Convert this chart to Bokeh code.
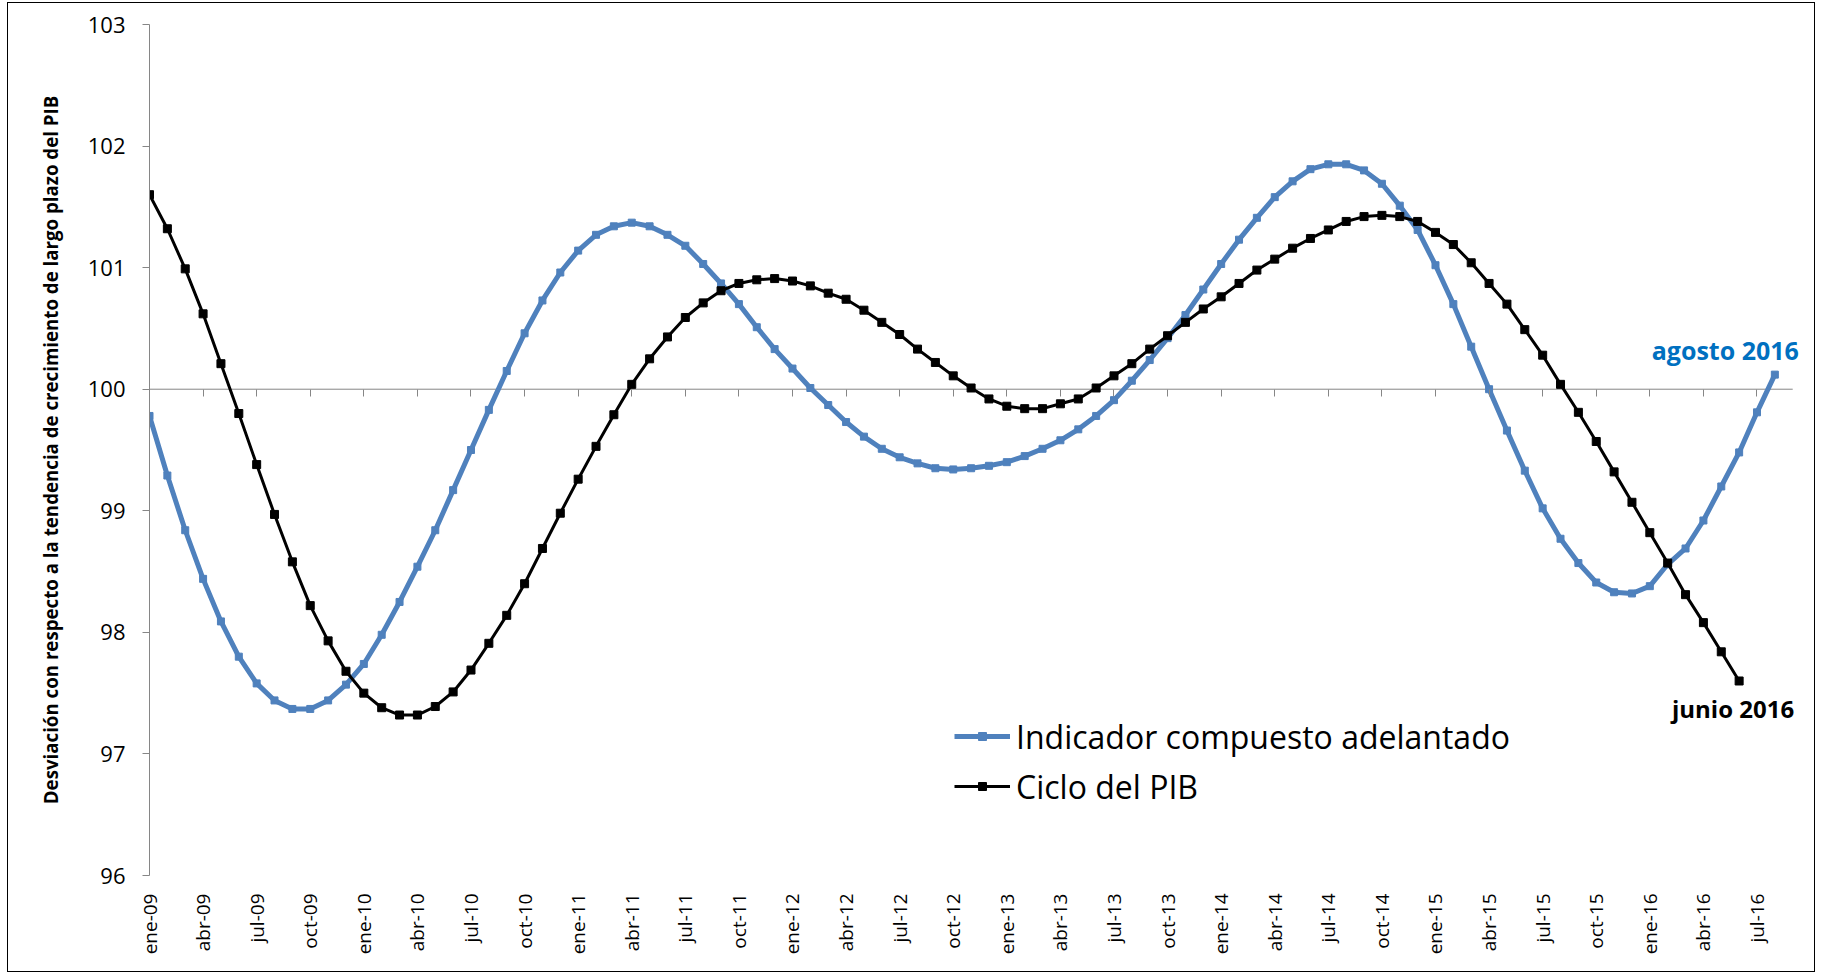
import math
from bokeh.plotting import figure
from bokeh.models import (Range1d, LinearAxis, FixedTicker, Legend, LegendItem,
                          ColumnDataSource, Label)
from bokeh.embed import file_html
from bokeh.resources import INLINE

# ---------------- data ----------------
meses = ["ene", "feb", "mar", "abr", "may", "jun", "jul", "ago", "sep", "oct", "nov", "dic"]
months = [f"{m}-{y:02d}" for y in range(9, 17) for m in meses][:93]  # ene-09 .. sep-16

indicador = [
    99.78, 99.29, 98.84, 98.44, 98.09, 97.80, 97.58, 97.44, 97.37, 97.37, 97.44, 97.57,
    97.74, 97.98, 98.25, 98.54, 98.84, 99.17, 99.50, 99.83, 100.15, 100.46, 100.73, 100.96,
    101.14, 101.27, 101.34, 101.37, 101.34, 101.27, 101.18, 101.03, 100.87, 100.70, 100.51, 100.33,
    100.17, 100.01, 99.87, 99.73, 99.61, 99.51, 99.44, 99.39, 99.35, 99.34, 99.35, 99.37,
    99.40, 99.45, 99.51, 99.58, 99.67, 99.78, 99.91, 100.07, 100.24, 100.42, 100.61, 100.82,
    101.03, 101.23, 101.41, 101.58, 101.71, 101.81, 101.85, 101.85, 101.80, 101.69, 101.51, 101.31,
    101.02, 100.70, 100.35, 100.00, 99.66, 99.33, 99.02, 98.77, 98.57, 98.41, 98.33, 98.32,
    98.38, 98.56, 98.69, 98.92, 99.20, 99.48, 99.81, 100.12,
]

ciclo_pib = [
    101.60, 101.32, 100.99, 100.62, 100.21, 99.80, 99.38, 98.97, 98.58, 98.22, 97.93, 97.68,
    97.50, 97.38, 97.32, 97.32, 97.39, 97.51, 97.69, 97.91, 98.14, 98.40, 98.69, 98.98,
    99.26, 99.53, 99.79, 100.04, 100.25, 100.43, 100.59, 100.71, 100.81, 100.87, 100.90, 100.91,
    100.89, 100.85, 100.79, 100.74, 100.65, 100.55, 100.45, 100.33, 100.22, 100.11, 100.01, 99.92,
    99.86, 99.84, 99.84, 99.88, 99.92, 100.01, 100.11, 100.21, 100.33, 100.44, 100.55, 100.66,
    100.76, 100.87, 100.98, 101.07, 101.16, 101.24, 101.31, 101.38, 101.42, 101.43, 101.42, 101.38,
    101.29, 101.19, 101.04, 100.87, 100.70, 100.49, 100.28, 100.04, 99.81, 99.57, 99.32, 99.07,
    98.82, 98.57, 98.31, 98.08, 97.84, 97.60,
]

tick_labels = [
    "ene-09", "abr-09", "jul-09", "oct-09", "ene-10", "abr-10", "jul-10", "oct-10",
    "ene-11", "abr-11", "jul-11", "oct-11", "ene-12", "abr-12", "jul-12", "oct-12",
    "ene-13", "abr-13", "jul-13", "oct-13", "ene-14", "abr-14", "jul-14", "oct-14",
    "ene-15", "abr-15", "jul-15", "oct-15", "ene-16", "abr-16", "jul-16",
]
y_ticks = [96, 97, 98, 99, 100, 101, 102, 103]
baseline = 100

series_names = ["Indicador compuesto adelantado", "Ciclo del PIB"]
y_title = "Desviación con respecto a la tendencia de crecimiento de largo plazo del PIB"
last_labels = ["agosto 2016", "junio 2016"]

# ---------------- styling ----------------
FONT = "Open Sans"
BLUE = "#4F81BD"
LABEL_BLUE = "#0070C0"
GRAY = "#868686"

tick_pos = [months.index(t) for t in tick_labels]
last_cat = len(months) - 1

p = figure(width=1808, height=970, output_backend="svg", toolbar_location=None,
           x_range=Range1d(0, last_cat + 0.66), y_range=Range1d(96, 103),
           x_axis_location=None, y_axis_location=None,
           min_border_left=141, min_border_right=12, min_border_top=21,
           min_border_bottom=98)
p.grid.visible = False
p.outline_line_color = None
p.background_fill_color = "white"
p.border_fill_color = "white"
p.styles = {"border": "1.5px solid black", "margin": "2px 0px 0px 7px"}

yaxis = LinearAxis(ticker=FixedTicker(ticks=y_ticks),
                   axis_line_color=GRAY, axis_line_width=1,
                   major_tick_line_color=GRAY, major_tick_out=7, major_tick_in=0,
                   minor_tick_line_color=None,
                   major_label_text_font=FONT, major_label_text_font_size="22px",
                   major_label_text_color="black", major_label_standoff=17,
                   axis_label=y_title, axis_label_text_font=FONT,
                   axis_label_text_font_style="bold", axis_label_text_font_size="18.7px",
                   axis_label_text_color="black", axis_label_standoff=22)
p.add_layout(yaxis, "left")

xlab = LinearAxis(ticker=FixedTicker(ticks=tick_pos),
                  major_label_overrides={pos: lab for pos, lab in zip(tick_pos, tick_labels)},
                  axis_line_color=None, major_tick_line_color=None,
                  minor_tick_line_color=None, major_tick_out=0, major_tick_in=0,
                  major_label_orientation=math.pi / 2, major_label_standoff=18,
                  major_label_text_font=FONT, major_label_text_font_size="19px",
                  major_label_text_color="black")
p.add_layout(xlab, "below")

# tick marks hanging from the 100 line (Excel axis crossing at 100)
xline = LinearAxis(ticker=FixedTicker(ticks=tick_pos), fixed_location=baseline,
                   axis_line_color=None,
                   major_tick_line_color=GRAY, major_tick_out=7, major_tick_in=0,
                   minor_tick_line_color=None,
                   major_label_text_alpha=0, major_label_text_font_size="1px",
                   major_label_standoff=0)
p.add_layout(xline, "below")
# the horizontal axis line itself, spanning the category range
p.segment(x0=[0], y0=[baseline], x1=[last_cat], y1=[baseline],
          line_color=GRAY, line_width=1)

src_ind = ColumnDataSource(dict(x=list(range(len(indicador))), y=indicador))
src_pib = ColumnDataSource(dict(x=list(range(len(ciclo_pib))), y=ciclo_pib))

r1 = p.line("x", "y", source=src_ind, line_color=BLUE, line_width=5)
r1m = p.scatter("x", "y", source=src_ind, marker="square", size=7,
                fill_color=BLUE, line_color=BLUE)
r2 = p.line("x", "y", source=src_pib, line_color="black", line_width=3)
r2m = p.scatter("x", "y", source=src_pib, marker="square", size=8,
                fill_color="black", line_color="black")

legend = Legend(items=[LegendItem(label=series_names[0], renderers=[r1, r1m]),
                       LegendItem(label=series_names[1], renderers=[r2, r2m])],
                location=(805, 67), orientation="vertical", padding=0, margin=0,
                spacing=6, glyph_width=56, glyph_height=20, label_height=44,
                label_standoff=6, label_text_font=FONT, label_text_font_size="32px",
                label_text_color="black", label_text_baseline="middle",
                border_line_color=None, background_fill_alpha=0)
p.add_layout(legend, "center")

p.add_layout(Label(x=len(indicador) - 1, y=indicador[-1], text=last_labels[0],
                   x_offset=24, y_offset=25, text_align="right",
                   text_baseline="alphabetic", text_font=FONT, text_font_style="bold",
                   text_font_size="25px", text_color=LABEL_BLUE))
p.add_layout(Label(x=len(ciclo_pib) - 1, y=ciclo_pib[-1], text=last_labels[1],
                   x_offset=55, y_offset=-28, text_align="right",
                   text_baseline="alphabetic", text_font=FONT, text_font_style="bold",
                   text_font_size="24px", text_color="black"))

open("out.html", "w").write(file_html(p, INLINE))
